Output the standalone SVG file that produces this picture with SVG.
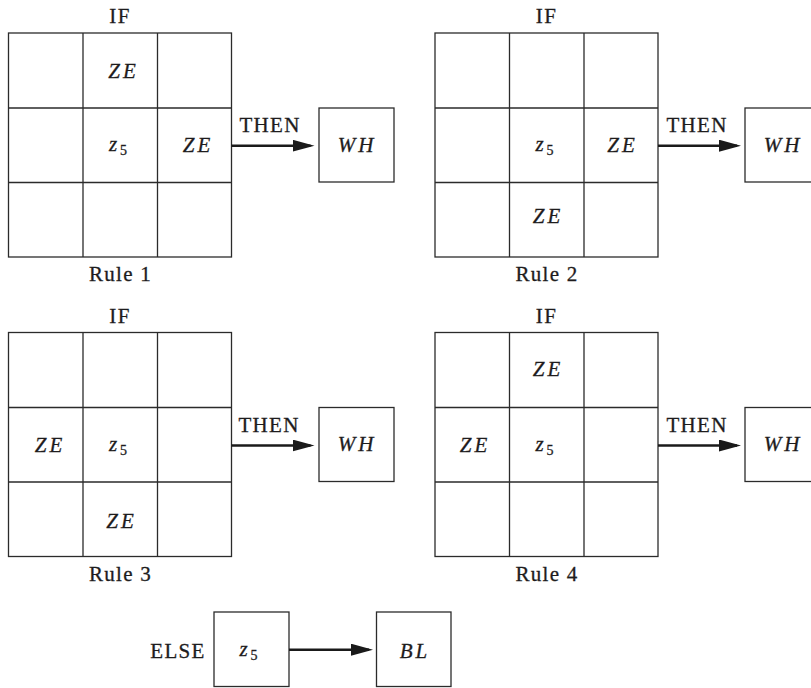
<svg xmlns="http://www.w3.org/2000/svg" width="811" height="688" viewBox="0 0 811 688">
<style>
.ln{fill:none;stroke:#2b2b2b;stroke-width:1.3}
.bx{fill:#fff;stroke:#2b2b2b;stroke-width:1.3}
.ar{fill:none;stroke:#1a1a1a;stroke-width:2.6}
.t{font-family:"Liberation Serif","Times New Roman",serif;font-size:21px;fill:#1e1c1d;stroke:#1e1c1d;stroke-width:0.3;text-anchor:middle;letter-spacing:1.3px}
.i{font-style:italic;letter-spacing:3px}
.s{font-size:14px;font-style:normal;letter-spacing:0}
</style>
<defs>
<marker id="ah" markerUnits="userSpaceOnUse" markerWidth="22" markerHeight="12" refX="18" refY="6" orient="auto">
<path d="M0,0 L22,6 L0,12 z" fill="#1a1a1a"/>
</marker>
<g id="grid">
<rect class="ln" x="0" y="0" width="223" height="224"/>
<path class="ln" d="M74.5,0V224M149,0V224M0,75H223M0,149.5H223"/>
</g>
</defs>

<g id="rule1">
<use href="#grid" x="8.5" y="33"/>
<text class="t" x="120" y="23.3">IF</text>
<text class="t i" x="123.5" y="78">ZE</text>
<text class="t i" x="118" y="150.5">z<tspan class="s" dy="4">5</tspan></text>
<text class="t i" x="198" y="151.5">ZE</text>
<text class="t" x="120.5" y="281">Rule 1</text>
</g>
<g id="wh1"><rect class="bx" x="319" y="108" width="75" height="74"/><text class="t i" x="357" y="151.5">WH</text></g>
<text class="t" x="270" y="131.7">THEN</text>

<g id="rule2">
<use href="#grid" x="435" y="33"/>
<text class="t" x="546.5" y="23.3">IF</text>
<text class="t i" x="544.5" y="150.5">z<tspan class="s" dy="4">5</tspan></text>
<text class="t i" x="622.5" y="151.5">ZE</text>
<text class="t i" x="548" y="223">ZE</text>
<text class="t" x="547" y="281">Rule 2</text>
</g>
<g id="wh2"><rect class="bx" x="745" y="108" width="75" height="74"/><text class="t i" x="783" y="151.5">WH</text></g>
<text class="t" x="697" y="131.7">THEN</text>

<g id="rule3">
<use href="#grid" x="8.5" y="332.5"/>
<text class="t" x="120" y="323">IF</text>
<text class="t i" x="50" y="451.5">ZE</text>
<text class="t i" x="118" y="450.5">z<tspan class="s" dy="4">5</tspan></text>
<text class="t i" x="121.5" y="527.5">ZE</text>
<text class="t" x="120.5" y="581">Rule 3</text>
</g>
<g id="wh3"><rect class="bx" x="319" y="407.5" width="75" height="74"/><text class="t i" x="357" y="451">WH</text></g>
<text class="t" x="269" y="431.7">THEN</text>

<g id="rule4">
<use href="#grid" x="435" y="332.5"/>
<text class="t" x="546.5" y="323">IF</text>
<text class="t i" x="548" y="376">ZE</text>
<text class="t i" x="475" y="451.5">ZE</text>
<text class="t i" x="544.5" y="450.5">z<tspan class="s" dy="4">5</tspan></text>
<text class="t" x="547" y="581">Rule 4</text>
</g>
<g id="wh4"><rect class="bx" x="745" y="407.5" width="75" height="74"/><text class="t i" x="783" y="451">WH</text></g>
<text class="t" x="697" y="431.7">THEN</text>

<g id="else">
<text class="t" x="178" y="657.5">ELSE</text>
<rect class="bx" x="214" y="612" width="75" height="74.5"/>
<text class="t i" x="248.5" y="656">z<tspan class="s" dy="4">5</tspan></text>
</g>
<g id="bl"><rect class="bx" x="376.5" y="612" width="74.5" height="74.5"/><text class="t i" x="415" y="657.5">BL</text></g>

<g id="connectors">
<line class="ar" x1="231.5" y1="145.7" x2="310.5" y2="145.7" marker-end="url(#ah)"/>
<line class="ar" x1="658" y1="145.7" x2="737" y2="145.7" marker-end="url(#ah)"/>
<line class="ar" x1="231.5" y1="445.5" x2="310.5" y2="445.5" marker-end="url(#ah)"/>
<line class="ar" x1="658" y1="445.5" x2="737" y2="445.5" marker-end="url(#ah)"/>
<line class="ar" x1="289" y1="649.7" x2="369" y2="649.7" marker-end="url(#ah)"/>
</g>
</svg>
